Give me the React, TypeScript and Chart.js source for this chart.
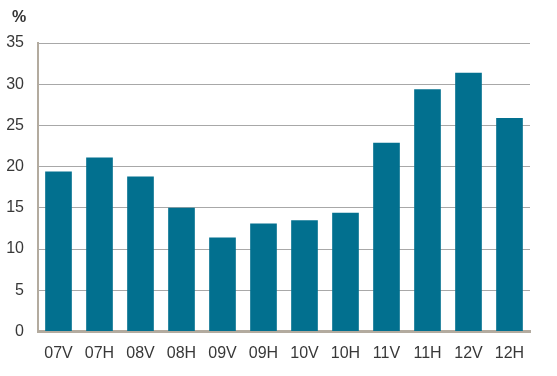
import React, { useEffect, useRef } from "react";
import { Chart, registerables } from "chart.js";

Chart.register(...registerables);

const categories = ["07V", "07H", "08V", "08H", "09V", "09H", "10V", "10H", "11V", "11H", "12V", "12H"];
const values = [19.4, 21.1, 18.8, 15.0, 11.4, 13.1, 13.5, 14.4, 22.9, 29.4, 31.4, 25.9];
const unitLabel = "%";

const FONT = "Arial, 'Liberation Sans', sans-serif";

export default function App() {
  const ref = useRef<HTMLCanvasElement | null>(null);
  useEffect(() => {
    if (!ref.current) return;
    const unitPlugin = {
      id: "unitLabel",
      afterDraw(chart: any) {
        const ctx = chart.ctx;
        ctx.save();
        ctx.font = `bold 16px ${FONT}`;
        ctx.fillStyle = "#333333";
        ctx.textBaseline = "middle";
        ctx.textAlign = "left";
        ctx.fillText(unitLabel, 12, 18);
        ctx.restore();
      },
    };
    const chart = new Chart(ref.current, {
      type: "bar",
      data: {
        labels: categories,
        datasets: [
          {
            data: values,
            backgroundColor: "#02708f",
            borderWidth: 0,
            barPercentage: 0.65,
            categoryPercentage: 1,
          },
        ],
      },
      options: {
        responsive: false,
        animation: false,
        layout: { padding: { top: 43, right: 27, left: 0, bottom: 0 } },
        plugins: { legend: { display: false }, tooltip: { enabled: false }, title: { display: false } },
        scales: {
          x: {
            grid: { display: false, drawTicks: false },
            border: { display: true, color: "#b3ab9f", width: 3 },
            ticks: { color: "#383838", font: { size: 16, family: FONT }, padding: 12, maxRotation: 0, autoSkip: false },
            afterFit: (s: any) => {
              s.height = 44.5;
            },
          },
          y: {
            min: 0,
            max: 35,
            ticks: { stepSize: 5, color: "#383838", font: { size: 16, family: FONT }, padding: 14 },
            grid: { color: "#a8a8a8", lineWidth: 1, drawTicks: false },
            border: { display: true, color: "#b3ab9f", width: 2 },
            afterFit: (s: any) => {
              s.width = 38;
            },
          },
        },
      },
      plugins: [unitPlugin],
    });
    return () => chart.destroy();
  }, []);
  return (
    <div style={{ position: "absolute", left: 0, top: 0, width: 557, height: 376, background: "#fff" }}>
      <canvas ref={ref} width={557} height={376} style={{ display: "block" }} />
    </div>
  );
}
